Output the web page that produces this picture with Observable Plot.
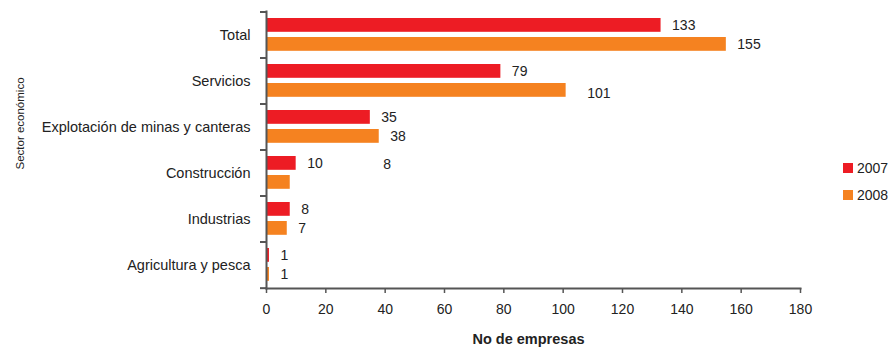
<!DOCTYPE html>
<html>
<head>
<meta charset="utf-8">
<script src="https://cdn.jsdelivr.net/npm/d3@7"></script>
<script src="https://cdn.jsdelivr.net/npm/@observablehq/plot@0.6"></script>
<style>
  html, body { margin: 0; padding: 0; background: #fff; }
  #wrap { position: relative; width: 891px; height: 349px; font-family: "Liberation Sans", Arial, sans-serif; }
  #legend { position: absolute; left: 843px; top: 160px; font-size: 14px; color: #222; }
  #legend div { display: flex; align-items: center; height: 16px; margin-bottom: 11px; }
  #legend span.sw { display: inline-block; width: 10px; height: 10px; margin-right: 4px; }
</style>
</head>
<body>
<div id="wrap"><div id="legend"></div></div>
<script>
const sectors = ["Total", "Servicios", "Explotación de minas y canteras", "Construcción", "Industrias", "Agricultura y pesca"];
const years = ["2007", "2008"];
const v2007 = [133, 79, 35, 10, 8, 1];
const v2008 = [155, 101, 38, 8, 7, 1];
const xTicks = [0, 20, 40, 60, 80, 100, 120, 140, 160, 180];
const colors = ["#ED1C24", "#F58220"];
const xLabel = "No de empresas";
const yLabel = "Sector económico";

const rows2007 = sectors.map((s, i) => ({sector: s, year: years[0], value: v2007[i]}));
const rows2008 = sectors.map((s, i) => ({sector: s, year: years[1], value: v2008[i]}));

const W = 891, H = 349, mt = 11, mb = 61, ml = 266, mr = 91;
const axisColor = "#555";
const textColor = "#222";

const chart = Plot.plot({
  width: W, height: H,
  marginTop: mt, marginBottom: mb, marginLeft: ml, marginRight: mr,
  style: {fontFamily: "Liberation Sans, Arial, sans-serif", fontSize: "14px", color: textColor},
  x: {domain: [0, 180], ticks: xTicks, label: null},
  y: {domain: sectors, padding: 0, label: null},
  marks: [
    Plot.barX(rows2007, {y: "sector", x: "value", fill: colors[0], insetTop: 6, insetBottom: 26.2}),
    Plot.barX(rows2008, {y: "sector", x: "value", fill: colors[1], insetTop: 25, insetBottom: 7.2}),
    Plot.text(rows2007, {y: "sector", x: "value", text: d => String(d.value), textAnchor: "start", dx: 11, dy: -10, fill: textColor, fontSize: 14}),
    Plot.text(rows2008.filter(d => d.sector !== "Construcción" && d.sector !== "Servicios"), {y: "sector", x: "value", text: d => String(d.value), textAnchor: "start", dx: 11, dy: 9, fill: textColor, fontSize: 14}),
    // labels placed off-bar in the original chart
    Plot.text(rows2008.filter(d => d.sector === "Servicios"), {y: "sector", x: "value", text: d => String(d.value), textAnchor: "start", dx: 21, dy: 12, fill: textColor, fontSize: 14}),
    Plot.text(rows2008.filter(d => d.sector === "Construcción"), {y: "sector", x: "value", text: d => String(d.value), textAnchor: "start", dx: 93, dy: -9, fill: textColor, fontSize: 14}),
    Plot.axisX({ticks: xTicks, tickSize: 5, tickPadding: 11, stroke: axisColor, strokeWidth: 1.5, fill: textColor, label: null, fontSize: 14}),
    Plot.axisY({tickSize: 0, tickPadding: 16, fill: textColor, label: null, fontSize: 14.5}),
    Plot.frame({anchor: "left", stroke: axisColor, strokeWidth: 2}),
    Plot.frame({anchor: "bottom", stroke: axisColor, strokeWidth: 2}),
    // boundary ticks on y axis drawn from the y band scale
    function (index, scales, values, dims) {
      const g = d3.create("svg:g").attr("stroke", axisColor).attr("stroke-width", 2);
      const step = (dims.height - dims.marginTop - dims.marginBottom) / sectors.length;
      const starts = sectors.map(s => scales.y(s));
      starts.push(starts[starts.length - 1] + step);
      const x0 = scales.x(0);
      for (const y of starts) {
        g.append("line").attr("x1", x0 - 6).attr("x2", x0).attr("y1", y).attr("y2", y);
      }
      return g.node();
    },
    Plot.text([xLabel], {frameAnchor: "bottom", dx: -5, dy: 55, fontWeight: "bold", fill: textColor, fontSize: 14.5}),
    Plot.text([yLabel], {frameAnchor: "left", textAnchor: "middle", rotate: -90, dx: -246, dy: -26.5, fill: textColor, fontSize: 11.5})
  ]
});

const wrap = document.getElementById("wrap");
wrap.insertBefore(chart, wrap.firstChild);
const leg = document.getElementById("legend");
years.forEach((y, i) => {
  const row = document.createElement("div");
  row.innerHTML = `<span class="sw" style="background:${colors[i]}"></span><span>${y}</span>`;
  leg.appendChild(row);
});
</script>
</body>
</html>
